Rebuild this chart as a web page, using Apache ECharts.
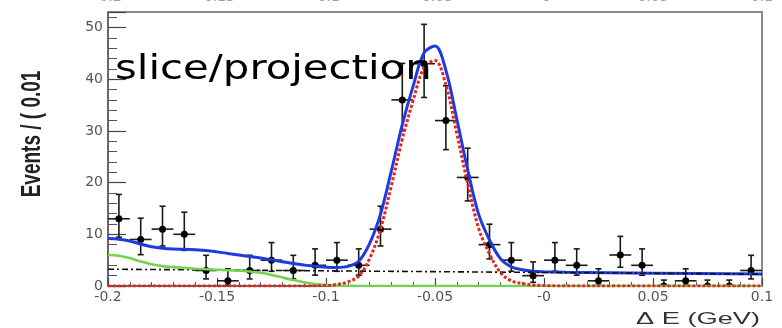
<!DOCTYPE html>
<html>
<head>
<meta charset="utf-8">
<script src="https://cdn.jsdelivr.net/npm/echarts@6/dist/echarts.min.js"></script>
<style>
  html, body { margin: 0; padding: 0; background: #ffffff; }
  #chart { width: 782px; height: 328px; }
</style>
</head>
<body>
<div id="chart"></div>
<script>
// Delta E histogram: bin centres (GeV) and event counts per 0.01 GeV bin
const binCenters = [
  -0.195, -0.185, -0.175, -0.165, -0.155, -0.145, -0.135, -0.125, -0.115, -0.105,
  -0.095, -0.085, -0.075, -0.065, -0.055, -0.045, -0.035, -0.025, -0.015, -0.005,
   0.005,  0.015,  0.025,  0.035,  0.045,  0.055,  0.065,  0.075,  0.085,  0.095
];
const counts = [
  13, 9, 11, 10, 3, 1, 3, 5, 3, 4,
  5, 4, 11, 36, 43, 32, 21, 8, 5, 2,
  5, 4, 1, 6, 4, 0, 1, 0, 0, 3
];
const binHalfWidth = 0.005;

// Fit components, sampled as [Delta E, events]
const totalFit = [
  [-0.2, 9.2], [-0.195, 9.05], [-0.19, 8.7], [-0.185, 8.1], [-0.18, 7.6], [-0.175, 7.3],
  [-0.17, 7.15], [-0.165, 7.1], [-0.16, 7.0], [-0.155, 6.85], [-0.15, 6.6], [-0.145, 6.3],
  [-0.14, 6.0], [-0.135, 5.7], [-0.13, 5.4], [-0.125, 5.05], [-0.12, 4.7], [-0.115, 4.35],
  [-0.11, 4.05], [-0.105, 3.8], [-0.1, 3.65], [-0.095, 3.6], [-0.09, 3.8], [-0.085, 4.8],
  [-0.08, 8.2], [-0.075, 13.9], [-0.07, 22.3], [-0.065, 31.2], [-0.06, 38.7], [-0.055, 45.1],
  [-0.05, 46.4], [-0.045, 41.7], [-0.04, 32.3], [-0.035, 22.5], [-0.03, 13.9],
  [-0.025, 8.9], [-0.02, 5.3], [-0.015, 3.7], [-0.01, 3.15], [-0.005, 2.85],
  [0.0, 2.75], [0.01, 2.66], [0.05, 2.48], [0.1, 2.3]
];
const signalFit = [
  [-0.2, 0], [-0.11, 0], [-0.1, 0.1], [-0.095, 0.3], [-0.09, 0.8], [-0.085, 1.9],
  [-0.08, 5.3], [-0.075, 11.0], [-0.07, 19.4], [-0.065, 28.4], [-0.06, 35.9], [-0.055, 42.3],
  [-0.05, 43.6], [-0.045, 38.9], [-0.04, 29.5], [-0.035, 19.8], [-0.03, 11.2],
  [-0.025, 6.2], [-0.02, 2.6], [-0.015, 1.0], [-0.01, 0.5], [-0.005, 0.2],
  [0.0, 0.08], [0.01, 0], [0.1, 0]
];
const peakingBkgFit = [
  [-0.2, 6.0], [-0.195, 5.85], [-0.19, 5.4], [-0.185, 4.75], [-0.18, 4.2], [-0.175, 3.85],
  [-0.17, 3.65], [-0.165, 3.5], [-0.16, 3.35], [-0.15, 3.15], [-0.14, 2.95], [-0.135, 2.8],
  [-0.13, 2.55], [-0.125, 2.15], [-0.12, 1.65], [-0.115, 1.15], [-0.11, 0.72], [-0.105, 0.4],
  [-0.1, 0.2], [-0.095, 0.08], [-0.09, 0.02], [-0.085, 0], [0.1, 0]
];
const flatBkgFit = [[-0.2, 3.25], [0.1, 2.3]];

// Axis ranges and tick labels
const xMin = -0.2, xMax = 0.1, xStep = 0.05;
const yMin = 0, yMax = 53, yStep = 10;
const xTickValues = [-0.2, -0.15, -0.1, -0.05, 0, 0.05, 0.1];
const xTickLabels = ['-0.2', '-0.15', '-0.1', '-0.05', '-0', '0.05', '0.1'];

function xLabel(v) {
  for (let i = 0; i < xTickValues.length; i++) {
    if (Math.abs(v - xTickValues[i]) < 1e-9) return xTickLabels[i];
  }
  return '';
}

// Central 68% Poisson interval (Gehrels approximation)
function poissonLow(n) {
  if (n <= 0) return 0;
  const f = 1 - 1 / (9 * n) - 1 / (3 * Math.sqrt(n));
  return n * f * f * f;
}
function poissonHigh(n) {
  if (n <= 0) return 1.148;
  return n + Math.sqrt(n + 0.75) + 1;
}

const pointData = binCenters.map((x, i) => [x, counts[i], poissonLow(counts[i]), poissonHigh(counts[i])]);

const tickFont = { fontFamily: 'DejaVu Sans', fontSize: 14, color: '#555555' };

const chart = echarts.init(document.getElementById('chart'), null, { renderer: 'canvas' });

chart.setOption({
  animation: false,
  backgroundColor: '#ffffff',
  grid: { left: 108, right: 20, top: 12, bottom: 42, containLabel: false, outerBoundsMode: 'none' },
  xAxis: [
    {
      type: 'value', min: xMin, max: xMax, interval: xStep, position: 'bottom',
      axisLine: { onZero: false, lineStyle: { color: '#333333', width: 1.5 } },
      axisTick: { inside: true, length: 8, lineStyle: { color: '#444444', width: 1.2 } },
      minorTick: { show: true, splitNumber: 5, length: 4, lineStyle: { color: '#555555', width: 1 } },
      splitLine: { show: false },
      axisLabel: Object.assign({ margin: 4, formatter: xLabel }, tickFont)
    },
    {
      // upper frame edge; its labels sit just above the page edge
      type: 'value', min: xMin, max: xMax, interval: xStep, position: 'top',
      axisLine: { onZero: false, lineStyle: { color: '#8a8a8a', width: 2 } },
      axisTick: { show: false },
      splitLine: { show: false },
      axisLabel: Object.assign({ margin: 8, formatter: xLabel }, tickFont, { color: '#a0a0a0' })
    }
  ],
  yAxis: [
    {
      type: 'value', min: yMin, max: yMax, interval: yStep, position: 'left',
      axisLine: { show: true, onZero: false, lineStyle: { color: '#333333', width: 1.5 } },
      axisTick: { inside: true, length: 18, lineStyle: { color: '#444444', width: 1.2 } },
      minorTick: { show: true, splitNumber: 5, length: 9, lineStyle: { color: '#555555', width: 1 } },
      splitLine: { show: false },
      axisLabel: Object.assign({ margin: 5, formatter: v => (v % 10 === 0 ? String(v) : '') }, tickFont)
    },
    {
      type: 'value', min: yMin, max: yMax, interval: yStep, position: 'right',
      axisLine: { show: true, onZero: false, lineStyle: { color: '#8a8a8a', width: 2 } },
      axisTick: { show: false }, axisLabel: { show: false }, splitLine: { show: false }
    }
  ],
  series: [
    {
      name: 'data', type: 'custom', z: 2, clip: true,
      data: pointData,
      encode: { x: 0, y: 1 },
      renderItem: function (params, api) {
        const x = api.value(0), n = api.value(1), lo = api.value(2), hi = api.value(3);
        const c = api.coord([x, n]);
        const top = api.coord([x, hi]);
        const bot = api.coord([x, lo]);
        const l = api.coord([x - binHalfWidth, n]);
        const r = api.coord([x + binHalfWidth, n]);
        const ink = { stroke: '#1a1a1a', lineWidth: 1.6 };
        const cap = 3;
        return {
          type: 'group',
          children: [
            { type: 'line', shape: { x1: c[0], y1: top[1], x2: c[0], y2: bot[1] }, style: ink },
            { type: 'line', shape: { x1: c[0] - cap, y1: top[1], x2: c[0] + cap, y2: top[1] }, style: ink },
            { type: 'line', shape: { x1: c[0] - cap, y1: bot[1], x2: c[0] + cap, y2: bot[1] }, style: ink },
            { type: 'line', shape: { x1: l[0], y1: c[1], x2: r[0], y2: c[1] }, style: ink },
            { type: 'circle', shape: { cx: c[0], cy: c[1], r: 3.5 }, style: { fill: '#000000' } }
          ]
        };
      }
    },
    {
      name: 'total', type: 'line', z: 3, data: totalFit, smooth: 0.35,
      showSymbol: false, lineStyle: { color: '#1f3be0', width: 3 }
    },
    {
      name: 'flat', type: 'line', z: 4, data: flatBkgFit, showSymbol: false,
      lineStyle: { color: '#111111', width: 1.6, type: [6, 3, 2, 3] }
    },
    {
      name: 'peaking', type: 'line', z: 4, data: peakingBkgFit, smooth: 0.35,
      showSymbol: false, lineStyle: { color: '#73d44f', width: 2.6 }
    },
    {
      name: 'signal', type: 'line', z: 5, data: signalFit, smooth: 0.35,
      showSymbol: false, lineStyle: { color: '#e3261d', width: 3, type: [3, 2] }
    }
  ],
  graphic: [
    {
      type: 'text', x: 32, y: 134, rotation: Math.PI / 2, scaleY: 1.5, z: 10,
      style: {
        text: 'Events / ( 0.01', fill: '#222222',
        font: 'bold 19px "Liberation Sans", Arial, sans-serif',
        align: 'center', verticalAlign: 'middle'
      }
    },
    {
      type: 'text', x: 760, y: 319, scaleX: 1.6, z: 10,
      style: {
        text: '\u0394 E (GeV)', fill: '#333333',
        font: '17px "Liberation Sans", Arial, sans-serif',
        align: 'right', verticalAlign: 'middle'
      }
    },
    {
      type: 'text', x: 115, y: 53, scaleX: 1.23, z: 20,
      style: {
        text: 'slice/projection', fill: '#000000',
        font: '34px "DejaVu Sans", sans-serif',
        align: 'left', verticalAlign: 'alphabetic'
      }
    }
  ]
});
</script>
</body>
</html>
